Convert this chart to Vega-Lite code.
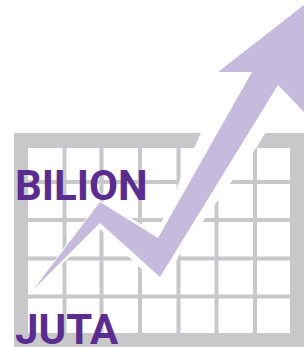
{
  "$schema": "https://vega.github.io/schema/vega-lite/v6.json",
  "width": 307,
  "height": 347,
  "autosize": {"type": "none"},
  "padding": 0,
  "background": "white",
  "config": {"view": {"stroke": null}},
  "datasets": {
    "frame": [
      {"part": "outer", "x": 14, "x2": 304, "y": 133, "y2": 350},
      {"part": "inner", "x": 28, "x2": 290, "y": 148, "y2": 333}
    ],
    "vlines": [
      {"x": 64.5}, {"x": 101.5}, {"x": 140}, {"x": 178.5}, {"x": 216.5}, {"x": 255}
    ],
    "hlines": [
      {"y": 182}, {"y": 220}, {"y": 258.5}, {"y": 296.5}
    ],
    "halo": [
      {"i": 0, "x": 32, "y": 291},
      {"i": 1, "x": 100, "y": 201},
      {"i": 2, "x": 156.9, "y": 233.8},
      {"i": 3, "x": 201.3, "y": 133.1},
      {"i": 4, "x": 232, "y": 90},
      {"i": 5, "x": 218, "y": 90},
      {"i": 6, "x": 200, "y": 76},
      {"i": 7, "x": 206, "y": 58},
      {"i": 8, "x": 320, "y": -30},
      {"i": 9, "x": 320, "y": 147},
      {"i": 10, "x": 280.5, "y": 108},
      {"i": 11, "x": 256.1, "y": 147.3},
      {"i": 12, "x": 181.4, "y": 249.8},
      {"i": 13, "x": 161.6, "y": 287.9},
      {"i": 14, "x": 100.1, "y": 228.5},
      {"i": 15, "x": 33, "y": 290}
    ],
    "arrow": [
      {"i": 0, "x": 33, "y": 290},
      {"i": 1, "x": 100, "y": 202},
      {"i": 2, "x": 158, "y": 238},
      {"i": 3, "x": 252, "y": 72},
      {"i": 4, "x": 218, "y": 72},
      {"i": 5, "x": 304, "y": 5},
      {"i": 6, "x": 304, "y": 112},
      {"i": 7, "x": 278, "y": 85},
      {"i": 8, "x": 160, "y": 277},
      {"i": 9, "x": 100, "y": 223}
    ],
    "labels": [
      {"label": "BILION", "x": 15, "y": 200},
      {"label": "JUTA", "x": 15, "y": 344}
    ]
  },
  "layer": [
    {
      "data": {"name": "frame"},
      "mark": {"type": "rect"},
      "encoding": {
        "x": {"field": "x", "type": "quantitative", "scale": {"domain": [0, 307], "nice": false, "zero": false}, "axis": null},
        "x2": {"field": "x2"},
        "y": {"field": "y", "type": "quantitative", "scale": {"domain": [0, 347], "nice": false, "zero": false, "reverse": true}, "axis": null},
        "y2": {"field": "y2"},
        "color": {"field": "part", "type": "nominal", "scale": {"domain": ["outer", "inner"], "range": ["#c8c8ca", "#ffffff"]}, "legend": null}
      }
    },
    {
      "data": {"name": "vlines"},
      "mark": {"type": "rule", "color": "#c8c8ca", "strokeWidth": 4},
      "encoding": {
        "x": {"field": "x", "type": "quantitative"},
        "y": {"datum": 148, "type": "quantitative"},
        "y2": {"datum": 333}
      }
    },
    {
      "data": {"name": "hlines"},
      "mark": {"type": "rule", "color": "#c8c8ca", "strokeWidth": 4},
      "encoding": {
        "y": {"field": "y", "type": "quantitative"},
        "x": {"datum": 28, "type": "quantitative"},
        "x2": {"datum": 290}
      }
    },
    {
      "data": {"name": "halo"},
      "mark": {"type": "line", "interpolate": "linear-closed", "fill": "#ffffff", "stroke": "#ffffff", "strokeWidth": 1, "clip": true},
      "encoding": {
        "x": {"field": "x", "type": "quantitative"},
        "y": {"field": "y", "type": "quantitative"},
        "order": {"field": "i", "type": "quantitative"}
      }
    },
    {
      "data": {"name": "arrow"},
      "mark": {"type": "line", "interpolate": "linear-closed", "fill": "#c5bbdc", "stroke": null, "strokeWidth": 0, "clip": true},
      "encoding": {
        "x": {"field": "x", "type": "quantitative"},
        "y": {"field": "y", "type": "quantitative"},
        "order": {"field": "i", "type": "quantitative"}
      }
    },
    {
      "data": {"name": "labels"},
      "mark": {"type": "text", "align": "left", "baseline": "alphabetic", "font": "Roboto", "fontWeight": "bold", "fontSize": 42, "color": "#5b2c8f"},
      "encoding": {
        "x": {"field": "x", "type": "quantitative"},
        "y": {"field": "y", "type": "quantitative"},
        "text": {"field": "label"}
      }
    }
  ]
}
